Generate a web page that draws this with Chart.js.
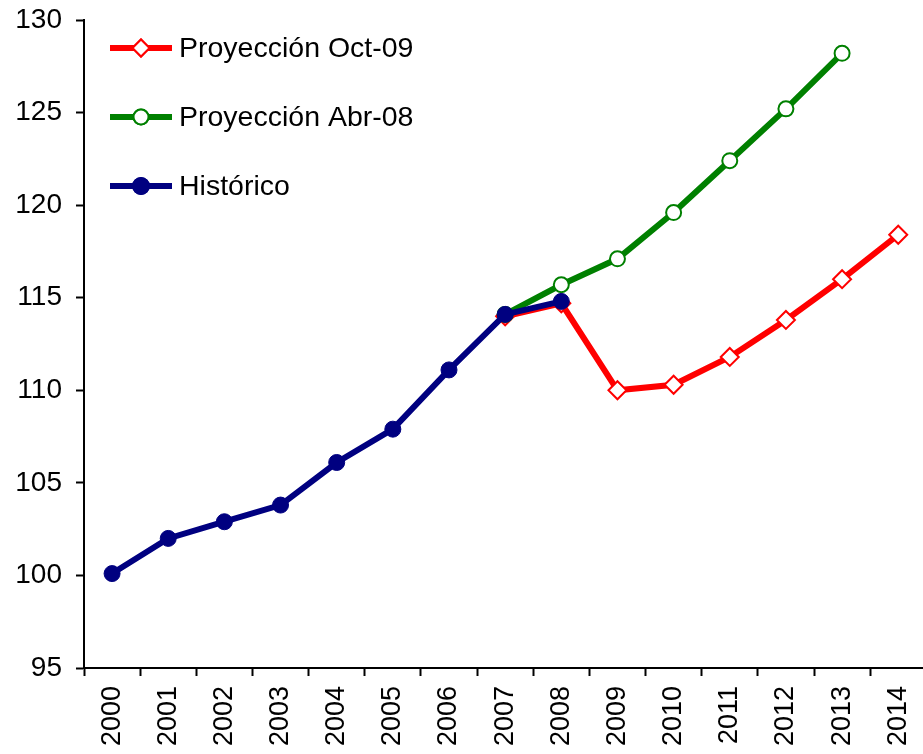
<!DOCTYPE html>
<html lang="es">
<head>
<meta charset="UTF-8">
<title>Proyecciones</title>
<script src="https://cdn.jsdelivr.net/npm/chart.js"></script>
<style>
  html, body { margin: 0; padding: 0; background: #fff; overflow: hidden; }
  /* the plot runs a little past the right edge, as in the original crop */
  #wrap { width: 923px; height: 754px; overflow: hidden; }
</style>
</head>
<body>
<div id="wrap"><canvas id="chart" width="941" height="754"></canvas></div>
<script>
// categorias (años)
const years = ['2000','2001','2002','2003','2004','2005','2006','2007','2008','2009','2010','2011','2012','2013','2014'];

// series
const historico = [100.1, 102.0, 102.9, 103.8, 106.1, 107.9, 111.1, 114.1, 114.8, null, null, null, null, null, null];
const proyAbr08 = [null, null, null, null, null, null, null, 114.1, 115.7, 117.1, 119.6, 122.4, 125.2, 128.2, null];
const proyOct09 = [null, null, null, null, null, null, null, 114.0, 114.7, 110.0, 110.3, 111.8, 113.8, 116.0, 118.4];

const yTicks = [95, 100, 105, 110, 115, 120, 125, 130];

const FONT = "'Liberation Sans', Arial, sans-serif";

// leyenda dibujada dentro del área del gráfico
const insideLegend = {
  id: 'insideLegend',
  afterDraw(chart) {
    const ctx = chart.ctx;
    const items = [
      { label: 'Proyección Oct-09', color: '#ff0000', style: 'rectRot', fill: '#ffffff', r: 8.5, y: 48 },
      { label: 'Proyección Abr-08', color: '#008000', style: 'circle', fill: '#ffffff', r: 7.5, y: 117 },
      { label: 'Histórico', color: '#000080', style: 'circle', fill: '#000080', r: 8, y: 186 }
    ];
    ctx.save();
    items.forEach(it => {
      ctx.strokeStyle = it.color;
      ctx.lineWidth = 6;
      ctx.beginPath();
      ctx.moveTo(110, it.y);
      ctx.lineTo(172, it.y);
      ctx.stroke();
      ctx.fillStyle = it.fill;
      ctx.lineWidth = 2;
      Chart.helpers.drawPoint(ctx, { pointStyle: it.style, radius: it.r, borderWidth: 2 }, 141, it.y);
      ctx.fill();
      ctx.stroke();
      ctx.fillStyle = '#000';
      ctx.font = '28.5px ' + FONT;
      ctx.textBaseline = 'middle';
      ctx.textAlign = 'left';
      ctx.fillText(it.label, 179, it.y + 1);
    });
    ctx.restore();
  }
};

new Chart(document.getElementById('chart'), {
  type: 'line',
  data: {
    labels: years,
    datasets: [
      {
        label: 'Histórico',
        data: historico,
        borderColor: '#000080',
        backgroundColor: '#000080',
        pointBackgroundColor: '#000080',
        pointBorderColor: '#000080',
        borderWidth: 6,
        pointRadius: 8,
        pointBorderWidth: 1,
        tension: 0
      },
      {
        label: 'Proyección Abr-08',
        data: proyAbr08,
        borderColor: '#008000',
        backgroundColor: '#ffffff',
        pointBackgroundColor: '#ffffff',
        pointBorderColor: '#008000',
        borderWidth: 6,
        pointRadius: 7.5,
        pointBorderWidth: 2,
        tension: 0
      },
      {
        label: 'Proyección Oct-09',
        data: proyOct09,
        borderColor: '#ff0000',
        backgroundColor: '#ffffff',
        pointBackgroundColor: '#ffffff',
        pointBorderColor: '#ff0000',
        pointStyle: 'rectRot',
        borderWidth: 6,
        pointRadius: 9,
        pointBorderWidth: 2,
        tension: 0
      }
    ]
  },
  options: {
    responsive: false,
    animation: false,
    layout: { padding: { top: 20, right: 0, left: 0, bottom: 0 } },
    plugins: {
      legend: { display: false },
      tooltip: { enabled: false }
    },
    scales: {
      x: {
        type: 'category',
        offset: true,
        grid: {
          offset: true,
          drawOnChartArea: false,
          drawTicks: true,
          tickLength: 8,
          tickWidth: 2,
          color: '#000'
        },
        border: { color: '#000', width: 2 },
        ticks: {
          color: '#000',
          minRotation: 90,
          maxRotation: 90,
          autoSkip: false,
          padding: 10,
          font: { family: FONT, size: 27 }
        },
        afterFit(scale) { scale.height = 86; }
      },
      y: {
        min: 95,
        max: 130,
        afterBuildTicks(scale) { scale.ticks = yTicks.map(v => ({ value: v })); },
        grid: {
          drawOnChartArea: false,
          drawTicks: true,
          tickLength: 8,
          tickWidth: 2,
          color: '#000'
        },
        border: { color: '#000', width: 2 },
        ticks: {
          color: '#000',
          padding: 14,
          font: { family: FONT, size: 28 }
        },
        afterFit(scale) {
          scale.width = 84;
          scale.paddingTop = 0;
          scale.paddingBottom = 0;
        }
      }
    }
  },
  plugins: [insideLegend]
});
</script>
</body>
</html>
